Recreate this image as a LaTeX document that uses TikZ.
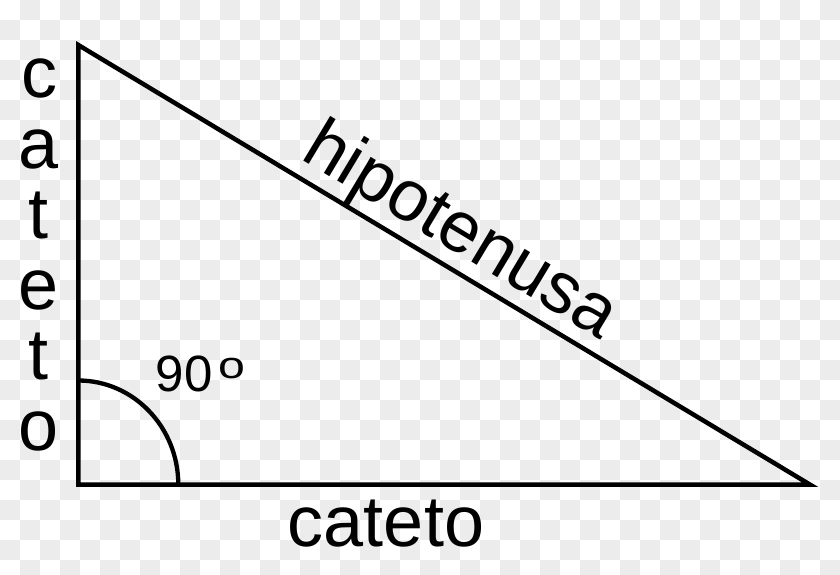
\documentclass[tikz,border=0pt]{standalone}
\usepackage{fontspec}
\setmainfont{Liberation Sans}
\definecolor{checkgray}{RGB}{236,236,236}
\begin{document}
\begin{tikzpicture}[x=1pt,y=-1pt,
  edge/.style={line width=4.5pt, line join=miter},
  bigtxt/.style={font=\fontsize{72}{80}\selectfont, inner sep=0pt},
  angtxt/.style={font=\fontsize{51}{60}\selectfont, inner sep=0pt}]
\useasboundingbox (0,0) rectangle (840,575);
\fill[white] (0,0) rectangle (840,575);
\begin{scope}
\clip (0,0) rectangle (840,575);
\foreach \i in {0,...,41}{
  \foreach \j in {0,...,28}{
    \pgfmathtruncatemacro\myparity{mod(\i+\j,2)}
    \ifnum\myparity=1 \fill[checkgray] (20*\i,20*\j) rectangle ++(20,20); \fi
  }
}
\end{scope}
\coordinate (T) at (78.3,45);
\coordinate (B) at (78.3,484.6);
\coordinate (R) at (810,484.6);
\coordinate (A1) at (78.3,380.5);
\draw[edge] (T) -- (B) -- (R) -- cycle;
\draw[line width=4.3pt] (A1) arc[start angle=-90, end angle=0, x radius=100, y radius=104.1];
\node[bigtxt, anchor=base, rotate=-31] (hyp) at (450,249) {hipotenusa};
\node[bigtxt, anchor=base] (bot) at (386,546.7) {cateto};
\foreach \ch [count=\k from 0] in {c,a,t,e,t,o}{
  \node[bigtxt, anchor=base] (l\k) at (39,98+70.4*\k) {\ch};
}
\node[angtxt, anchor=base west] (ang) at (155.5,391.7) {90\hspace{6.5pt}\raisebox{13.7pt}{\scalebox{1.15}[0.9]{\fontsize{42}{42}\selectfont o}}};
\end{tikzpicture}
\end{document}
